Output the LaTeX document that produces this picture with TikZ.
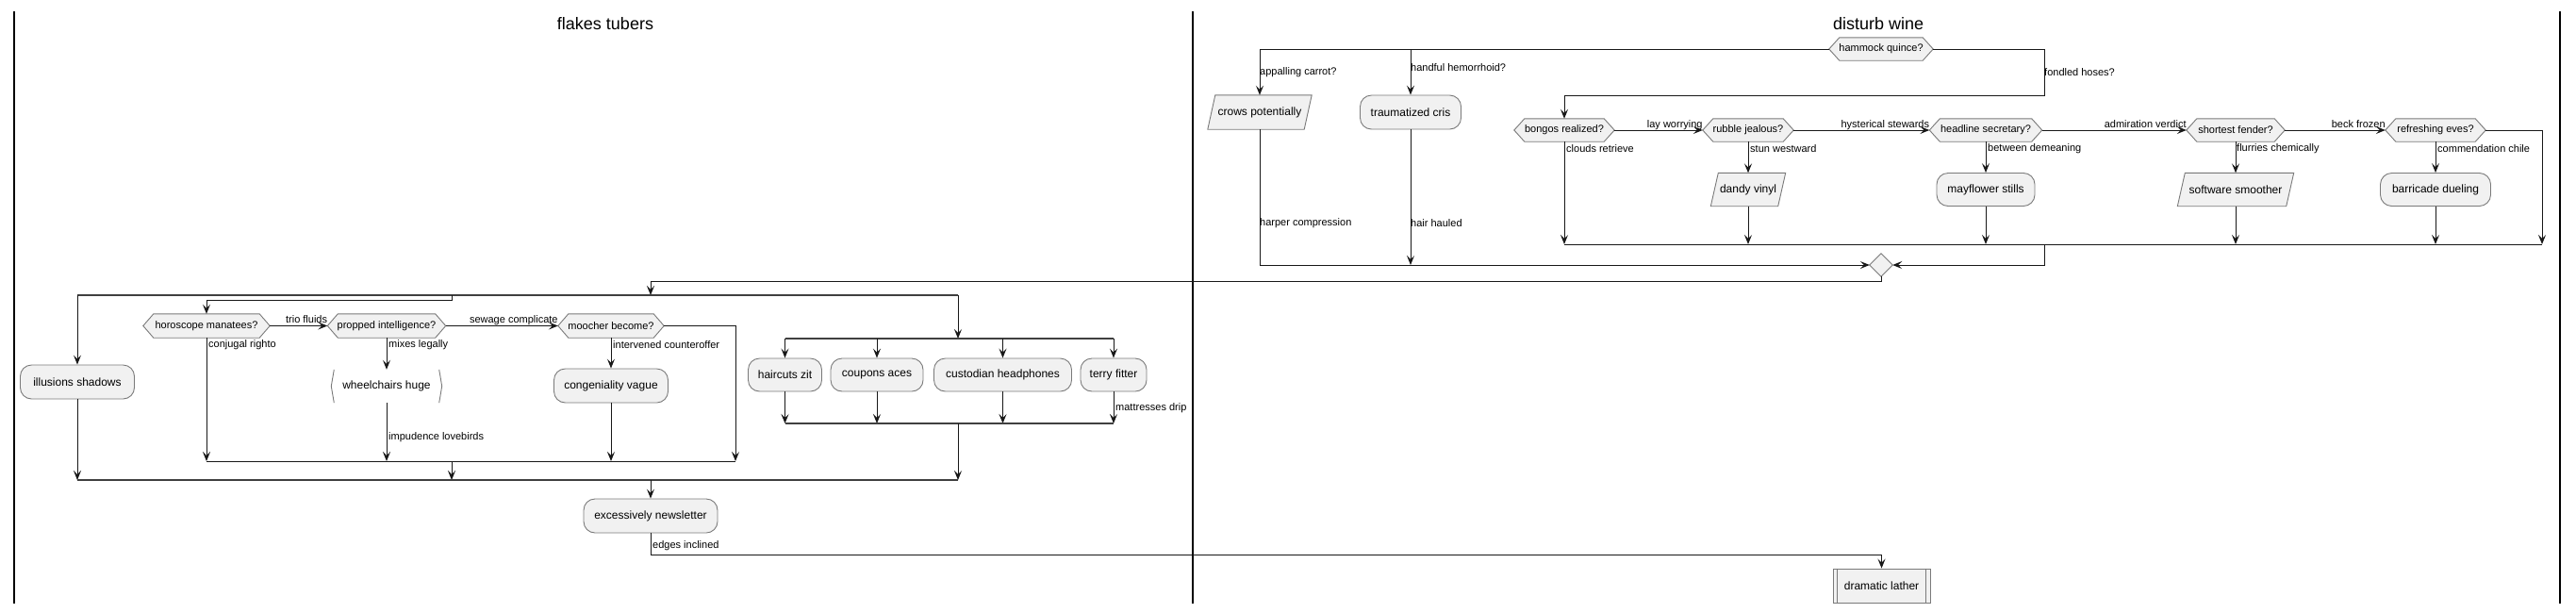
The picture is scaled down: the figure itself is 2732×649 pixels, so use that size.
\documentclass[tikz,border=0pt]{standalone}
\usepackage{fontspec}
\setmainfont{Liberation Sans}
\usetikzlibrary{arrows.meta,calc}
\pgfdeclarelayer{background}
\pgfsetlayers{background,main}
\definecolor{boxfill}{HTML}{F1F1F1}
\definecolor{ink}{HTML}{181818}
\definecolor{edge}{HTML}{7A7A7A}
\tikzset{
  conn/.style={draw=ink, line width=1pt},
  arr/.style={conn, -{Stealth[length=10pt,width=8pt,inset=4pt]}},
  forkbar/.style={draw=black!75, line width=2.6pt},
  lane/.style={draw=black, line width=1.6pt},
  shapeline/.style={draw=edge, fill=boxfill, line width=0.9pt},
  box/.style={draw=edge, fill=boxfill, line width=0.9pt, rounded corners=12pt, inner sep=0pt, minimum height=36pt, font=\fontsize{12}{14}\selectfont},
  plainnode/.style={inner sep=0pt, minimum height=36pt, font=\fontsize{12}{14}\selectfont},
  dec/.style={inner sep=0pt, minimum height=24pt, font=\fontsize{11}{13}\selectfont},
  lbl/.style={font=\fontsize{11}{13}\selectfont, inner sep=1pt},
  hlbl/.style={font=\fontsize{11}{13}\selectfont, inner sep=0pt, anchor=base east},
  title/.style={font=\fontsize{18}{21}\selectfont, inner sep=0pt}
}
\newcommand\hexdraw[1]{\begin{pgfonlayer}{background}\draw[shapeline] (#1.west) -- ($(#1.north west)+(11,0)$) -- ($(#1.north east)+(-11,0)$) -- (#1.east) -- ($(#1.south east)+(-11,0)$) -- ($(#1.south west)+(11,0)$) -- cycle;\end{pgfonlayer}}
\newcommand\paradraw[1]{\begin{pgfonlayer}{background}\draw[shapeline] (#1.south west) -- ($(#1.north west)+(8,0)$) -- (#1.north east) -- ($(#1.south east)+(-8,0)$) -- cycle;\end{pgfonlayer}}
\newcommand\diadraw[1]{\begin{pgfonlayer}{background}\draw[shapeline] (#1.west) -- (#1.north) -- (#1.east) -- (#1.south) -- cycle;\end{pgfonlayer}}
\begin{document}
\begin{tikzpicture}[x=1pt,y=-1pt]
\useasboundingbox (0,0) rectangle (2732,649);
% lanes
\draw[lane] (15,12) -- (15,640);
\draw[lane] (1265,12) -- (1265,640);
\draw[lane] (2715,12) -- (2715,640);
\node[title] (t1) at (642,25) {flakes tubers};
\node[title] (t2) at (1992,25) {disturb wine};

% ---------- right lane ----------
\node[dec, minimum width=110pt] (hammock) at (1995,52) {hammock quince?}; \hexdraw{hammock}
\node[plainnode, minimum width=110pt] (crows) at (1336,119) {crows potentially}; \paradraw{crows}
\node[box, minimum width=107pt] (trauma) at (1496,119) {traumatized cris};
\node[dec, minimum width=106pt] (bongos) at (1659,138) {bongos realized?}; \hexdraw{bongos}
\node[dec, minimum width=96pt] (rubble) at (1854,138) {rubble jealous?}; \hexdraw{rubble}
\node[dec, minimum width=119pt] (headline) at (2106,138) {headline secretary?}; \hexdraw{headline}
\node[dec, minimum width=104pt] (shortest) at (2371,138) {shortest fender?}; \hexdraw{shortest}
\node[dec, minimum width=106pt] (refresh) at (2583,138) {refreshing eves?}; \hexdraw{refresh}
\node[plainnode, minimum width=79pt, minimum height=35pt] (dandy) at (1854,201) {dandy vinyl}; \paradraw{dandy}
\node[box, minimum width=104pt, minimum height=35pt] (mayflower) at (2106,201) {mayflower stills};
\node[plainnode, minimum width=123pt, minimum height=35pt] (software) at (2371,201) {software smoother}; \paradraw{software}
\node[box, minimum width=117pt, minimum height=35pt] (barricade) at (2583,201) {barricade dueling};
\node[inner sep=0pt, minimum width=24pt, minimum height=24pt] (merge) at (1995,281) {}; \diadraw{merge}

\coordinate (hr) at (2168,101);
\coordinate (barL) at (1659,259);
\coordinate (barM) at (2168,259);
\coordinate (barR) at (2696,259);
\coordinate (mb) at (1995,298);

\draw[arr] (hammock.west) -| (crows.north);
\draw[arr] (trauma.north |- hammock.west) -- (trauma.north);
\draw[arr] (hammock.east) -| (hr) -| (bongos.north);
\node[lbl, anchor=west] at (1335,77) {appalling carrot?};
\node[lbl, anchor=west] at (1495,72) {handful hemorrhoid?};
\node[lbl, anchor=west] at (2167,77) {fondled hoses?};

\draw[arr] (bongos.east) -- (rubble.west);
\draw[arr] (rubble.east) -- (headline.west);
\draw[arr] (headline.east) -- (shortest.west);
\draw[arr] (shortest.east) -- (refresh.west);
\node[hlbl] at ($(rubble.west)+(0,-3)$) {lay worrying};
\node[hlbl] at ($(headline.west)+(0,-3)$) {hysterical stewards};
\node[hlbl] at ($(shortest.west)+(0,-3)$) {admiration verdict};
\node[hlbl] at ($(refresh.west)+(0,-3)$) {beck frozen};

\draw[arr] (bongos.south) -- (bongos.south |- barL);
\draw[arr] (rubble.south) -- (dandy.north);
\draw[arr] (dandy.south) -- (dandy.south |- barL);
\draw[arr] (headline.south) -- (mayflower.north);
\draw[arr] (mayflower.south) -- (mayflower.south |- barL);
\draw[arr] (shortest.south) -- (software.north);
\draw[arr] (software.south) -- (software.south |- barL);
\draw[arr] (refresh.south) -- (barricade.north);
\draw[arr] (barricade.south) -- (barricade.south |- barL);
\draw[arr] (refresh.east) -| (barR);
\draw[conn] (barL) -- (barR);
\node[lbl, anchor=west] at (1660,158) {clouds retrieve};
\node[lbl, anchor=west] at (1855,158) {stun westward};
\node[lbl, anchor=west] at (2107,158) {between demeaning};
\node[lbl, anchor=west] at (2371,158) {flurries chemically};
\node[lbl, anchor=west] at (2584,158) {commendation chile};

\draw[arr] (barM) |- (merge.east);
\draw[arr] (crows.south) |- (merge.west);
\draw[arr] (trauma.south) -- (trauma.south |- merge.west);
\node[lbl, anchor=west] at (1335,237) {harper compression};
\node[lbl, anchor=west] at (1495,237) {hair hauled};

% ---------- left lane ----------
\coordinate (f1L) at (82,313);
\coordinate (f1M) at (479,313);
\coordinate (f1Mb) at (479,318);
\coordinate (f1C) at (690,313);
\coordinate (f1R) at (1016,313);
\draw[arr] (merge.south) -- (mb) -| (f1C);
\draw[forkbar] (f1L) -- (f1R);

\node[box, minimum width=121pt] (illus) at (82,405) {illusions shadows};
\node[dec, minimum width=134pt, minimum height=25pt] (horo) at (219,345.5) {horoscope manatees?}; \hexdraw{horo}
\node[dec, minimum width=125pt, minimum height=25pt] (propped) at (410,345.5) {propped intelligence?}; \hexdraw{propped}
\node[dec, minimum width=112pt, minimum height=25pt] (moocher) at (648,345.5) {moocher become?}; \hexdraw{moocher}
\node[plainnode, minimum width=117pt, minimum height=35pt] (wheel) at (410,409.5) {wheelchairs huge};
\node[box, minimum width=121pt] (congen) at (648,409) {congeniality vague};
\draw[draw=edge, line width=0.9pt] ($(wheel.north west)+(3,0)$) -- (wheel.west) -- ($(wheel.south west)+(3,0)$);
\draw[draw=edge, line width=0.9pt] ($(wheel.north east)+(-3,0)$) -- (wheel.east) -- ($(wheel.south east)+(-3,0)$);

\coordinate (j4L) at (219,489);
\coordinate (j4M) at (479,489);
\coordinate (j4R) at (780,489);
\coordinate (j3L) at (82,509);
\coordinate (j3M) at (479,509);
\coordinate (j3C) at (690,509);
\coordinate (j3R) at (1016,509);

\draw[arr] (f1L) -- (illus.north);
\draw[arr] (f1M) -- (f1Mb) -| (horo.north);
\draw[arr] (horo.east) -- (propped.west);
\draw[arr] (propped.east) -- (moocher.west);
\node[hlbl] at ($(propped.west)+(0,-3)$) {trio fluids};
\node[hlbl] at ($(moocher.west)+(0,-3)$) {sewage complicate};
\draw[arr] (horo.south) -- (horo.south |- j4L);
\draw[arr] (propped.south) -- (wheel.north);
\draw[arr] (wheel.south) -- (wheel.south |- j4L);
\draw[arr] (moocher.south) -- (congen.north);
\draw[arr] (congen.south) -- (congen.south |- j4L);
\draw[arr] (moocher.east) -| (j4R);
\draw[conn] (j4L) -- (j4R);
\draw[arr] (j4M) -- (j3M);
\node[lbl, anchor=west] at (220,366) {conjugal righto};
\node[lbl, anchor=west] at (411,366) {mixes legally};
\node[lbl, anchor=west] at (649,366) {intervened counteroffer};
\node[lbl, anchor=west] at (411,464) {impudence lovebirds};
\draw[arr] (illus.south) -- (illus.south |- j3L);

% inner fork
\coordinate (f2T) at (1016,359);
\coordinate (f2L) at (832.5,359);
\coordinate (f2R) at (1181,359);
\coordinate (j2L) at (832.5,449);
\coordinate (j2M) at (1016,449);
\coordinate (j2R) at (1181,449);
\draw[arr] (f1R) -- (f2T);
\draw[forkbar] (f2L) -- (f2R);
\node[box, minimum width=78pt, minimum height=35pt] (hair) at (832.5,397.5) {haircuts zit};
\node[box, minimum width=98pt, minimum height=35pt] (coupons) at (930,397.5) {coupons aces};
\node[box, minimum width=146pt, minimum height=35pt] (custodian) at (1063.5,397.5) {custodian headphones};
\node[box, minimum width=70pt, minimum height=35pt] (terry) at (1181,397.5) {terry fitter};
\foreach \n in {hair,coupons,custodian,terry}{
  \draw[arr] (\n.north |- f2L) -- (\n.north);
  \draw[arr] (\n.south) -- (\n.south |- j2L);
}
\draw[forkbar] (j2L) -- (j2R);
\node[lbl, anchor=west] at (1182,433) {mattresses drip};
\draw[arr] (j2M) -- (j3R);
\draw[forkbar] (j3L) -- (j3R);

\node[box, minimum width=142pt] (excess) at (690,547) {excessively newsletter};
\draw[arr] (j3C) -- (excess.north);
\node[plainnode, draw=edge, fill=boxfill, line width=0.9pt, minimum width=103pt] (dram) at (1995.5,621) {dramatic lather};
\draw[draw=edge, line width=0.9pt] ($(dram.north west)+(5,0)$) -- ($(dram.south west)+(5,0)$);
\draw[draw=edge, line width=0.9pt] ($(dram.north east)+(-5,0)$) -- ($(dram.south east)+(-5,0)$);
\coordinate (eb) at (690,588);
\draw[arr] (excess.south) -- (eb) -| (dram.north);
\node[lbl, anchor=west] at (691,579) {edges inclined};
\end{tikzpicture}
\end{document}
